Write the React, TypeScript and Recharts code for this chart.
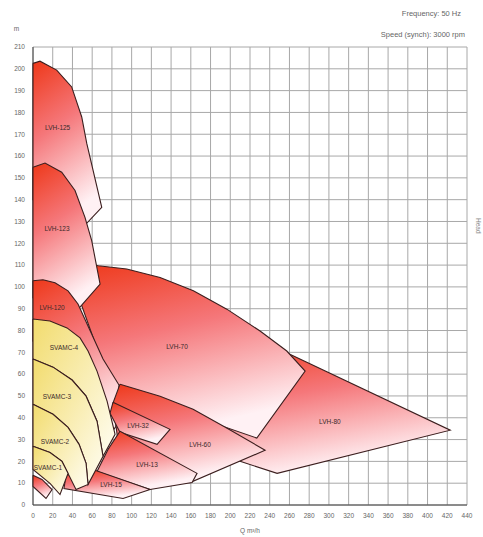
import { CartesianGrid, Scatter, ScatterChart, XAxis, YAxis } from "recharts";

// polygon outlines, [flow, head]
const lvh125 = [[0, 202.5], [7.1, 203.5], [24, 199.4], [39.2, 191.7], [49.4, 177.9], [54.5, 165.8], [69.7, 136.5], [52, 128], [20, 140], [0, 140]];
const lvh80 = [[199.8, 75.2], [253.5, 70.6], [423, 34.3], [247.5, 14.5], [194.7, 22.3]];
const lvh70 = [[47.7, 111.1], [66.2, 109.7], [95, 108.2], [128.8, 104.3], [162.6, 98.2], [196.5, 89.8], [230.2, 79.8], [257.3, 70.6], [275.9, 61.4], [226.9, 30.7], [118.7, 47.6], [78.1, 55], [47.7, 93.6]];
const lvh123 = [[0, 154.9], [12.2, 156.8], [29.1, 152.6], [42.6, 144.2], [52.7, 131.9], [59.5, 121.2], [68, 101.3], [44.3, 89], [0, 95]];
const lvh120 = [[0, 102.8], [10.1, 103.3], [22.3, 101.9], [35.5, 98.2], [45.6, 92.2], [71, 66.9], [87.2, 55], [84.2, 36.1], [73, 29.2], [0, 75.2]];
const lvh60 = [[88.2, 55.4], [128.8, 49.9], [162.3, 43.9], [196.8, 35.2], [235.3, 25.1], [159.2, 10.3], [86.2, 29.2], [81.1, 46.7]];
const lvh32 = [[81.1, 47.1], [138.9, 34.7], [125.8, 27.8], [88.2, 33.3], [78.1, 42.1]];
const lvh13 = [[88.2, 33.8], [166.3, 14.5], [161.3, 10.3], [118.7, 7.1], [64.9, 15.4], [76.1, 25.5]];
const lvh15 = [[62.9, 15.9], [118.7, 7.1], [91.3, 3], [31.4, 7.6], [33.5, 13.6]];
const lvh4 = [[0, 13.6], [9.1, 11.7], [19.3, 7.1], [13.2, 3], [0, 8.5]];

const arc4 = [[0, 85.3], [17.2, 84.4], [34.5, 81.2], [47.7, 76.6], [55.8, 70.6], [64.9, 61.4], [75.1, 47.6], [83.2, 32.4]];
const arc3 = [[0, 66.9], [20.3, 63.2], [39.6, 57.3], [53.8, 49.9], [64.9, 38.4], [71, 22.3]];
const arc2 = [[0, 46.2], [20.3, 41.6], [35.5, 35.6], [46.7, 27.8], [53.8, 19.1], [55.8, 9.4]];
const arc1 = [[0, 26.9], [17.2, 24.1], [29.4, 20], [35.5, 14.5]];
const svamc1Tail = [[27.4, 4.8], [17.2, 9.9], [0, 16.3]];
const svamc2Foot = [[43.6, 7.1]];

const labels = [
  { x: 25, y: 173, name: "LVH-125" },
  { x: 24.3, y: 126.7, name: "LVH-123" },
  { x: 19.3, y: 90.4, name: "LVH-120" },
  { x: 146, y: 72.9, name: "LVH-70" },
  { x: 301, y: 38.4, name: "LVH-80" },
  { x: 169.4, y: 27.8, name: "LVH-60" },
  { x: 106.5, y: 36.6, name: "LVH-32" },
  { x: 115.6, y: 18.6, name: "LVH-13" },
  { x: 79.1, y: 9.4, name: "LVH-15" },
  { x: 31.4, y: 72.4, name: "SVAMC-4" },
  { x: 24.3, y: 49.9, name: "SVAMC-3" },
  { x: 22.3, y: 29.2, name: "SVAMC-2" },
  { x: 15.2, y: 17.2, name: "SVAMC-1" },
];

const xTicks = [0, 20, 40, 60, 80, 100, 120, 140, 160, 180, 200, 220, 240, 260, 280, 300, 320, 340, 360, 380, 400, 420, 440];
const yTicks = [0, 10, 20, 30, 40, 50, 60, 70, 80, 90, 100, 110, 120, 130, 140, 150, 160, 170, 180, 190, 200, 210];

const rev = (a: number[][]) => [...a].reverse();

const regions = [
  { id: "lvh125", pts: lvh125, fill: "red" },
  { id: "lvh80", pts: lvh80, fill: "red" },
  { id: "lvh70", pts: lvh70, fill: "red" },
  { id: "lvh123", pts: lvh123, fill: "red" },
  { id: "lvh120", pts: lvh120, fill: "red" },
  { id: "lvh60", pts: lvh60, fill: "red" },
  { id: "lvh32", pts: lvh32, fill: "red" },
  { id: "lvh13", pts: lvh13, fill: "red" },
  { id: "lvh15", pts: lvh15, fill: "red" },
  { id: "lvh4", pts: lvh4, fill: "red" },
  { id: "svamc4", pts: [...arc4, ...rev(arc3)], fill: "yellow" },
  { id: "svamc3", pts: [...arc3, ...rev(arc2)], fill: "yellow" },
  { id: "svamc2", pts: [...arc2, ...svamc2Foot, ...rev(arc1)], fill: "yellow" },
  { id: "svamc1", pts: [...arc1, ...svamc1Tail], fill: "yellow" },
];

function toPoints(a: number[][]) {
  const p = a.map(([x, y]) => ({ x, y }));
  return [...p, p[0]];
}

const NoDot = () => <g />;

function RegionLabel(props: any) {
  return (
    <text
      x={props.cx}
      y={props.cy}
      textAnchor="middle"
      dominantBaseline="central"
      fontSize={6.5}
      fill="#3a2a2a"
    >
      {props.payload.name}
    </text>
  );
}

const tickStyle = { fill: "#666", fontSize: 6.5 };

export default function App() {
  return (
    <div
      style={{
        position: "absolute",
        left: 0,
        top: 0,
        width: 483,
        height: 537,
        background: "#fff",
        fontFamily: "'Liberation Sans', Arial, sans-serif",
      }}
    >
      <div style={{ position: "absolute", right: 22, top: 9, fontSize: 7.5, color: "#666" }}>
        Frequency: 50 Hz
      </div>
      <div style={{ position: "absolute", right: 18, top: 30, fontSize: 7.5, color: "#666" }}>
        Speed (synch): 3000 rpm
      </div>
      <div
        style={{
          position: "absolute",
          left: 482,
          top: 218,
          fontSize: 6.5,
          color: "#888",
          transform: "rotate(90deg)",
          transformOrigin: "left top",
        }}
      >
        Head
      </div>
      <ScatterChart width={483} height={537} margin={{ top: 47, right: 16, bottom: 0, left: 0 }}>
        <defs>
          <linearGradient id="red" x1="0" y1="0" x2="0.3" y2="1">
            <stop offset="0%" stopColor="#ee3819" />
            <stop offset="45%" stopColor="#f5777a" />
            <stop offset="100%" stopColor="#fff1f4" />
          </linearGradient>
          <linearGradient id="yellow" x1="0" y1="0" x2="1" y2="1">
            <stop offset="0%" stopColor="#f2dc6e" />
            <stop offset="100%" stopColor="#fffdf2" />
          </linearGradient>
        </defs>
        <CartesianGrid stroke="#a8a8a8" />
        <XAxis
          type="number"
          dataKey="x"
          domain={[0, 440]}
          ticks={xTicks}
          interval={0}
          height={32}
          tickLine={false}
          axisLine={{ stroke: "#444" }}
          tick={tickStyle}
          label={{ value: "Q m³/h", position: "insideBottom", offset: 4, fontSize: 6.5, fill: "#666" }}
        />
        <YAxis
          type="number"
          dataKey="y"
          domain={[0, 210]}
          ticks={yTicks}
          interval={0}
          width={33}
          tickLine={false}
          axisLine={{ stroke: "#444" }}
          tick={tickStyle}
          label={{ value: "m", position: "top", offset: 16, fontSize: 6.5, fill: "#666" }}
        />
        {regions.map((r) => (
          <Scatter
            key={r.id}
            data={toPoints(r.pts)}
            shape={NoDot}
            line={{ fill: `url(#${r.fill})`, stroke: "#3b1e1e", strokeWidth: 1.1 }}
            lineType="joint"
            isAnimationActive={false}
          />
        ))}
        <Scatter data={labels} shape={RegionLabel} isAnimationActive={false} />
      </ScatterChart>
    </div>
  );
}
